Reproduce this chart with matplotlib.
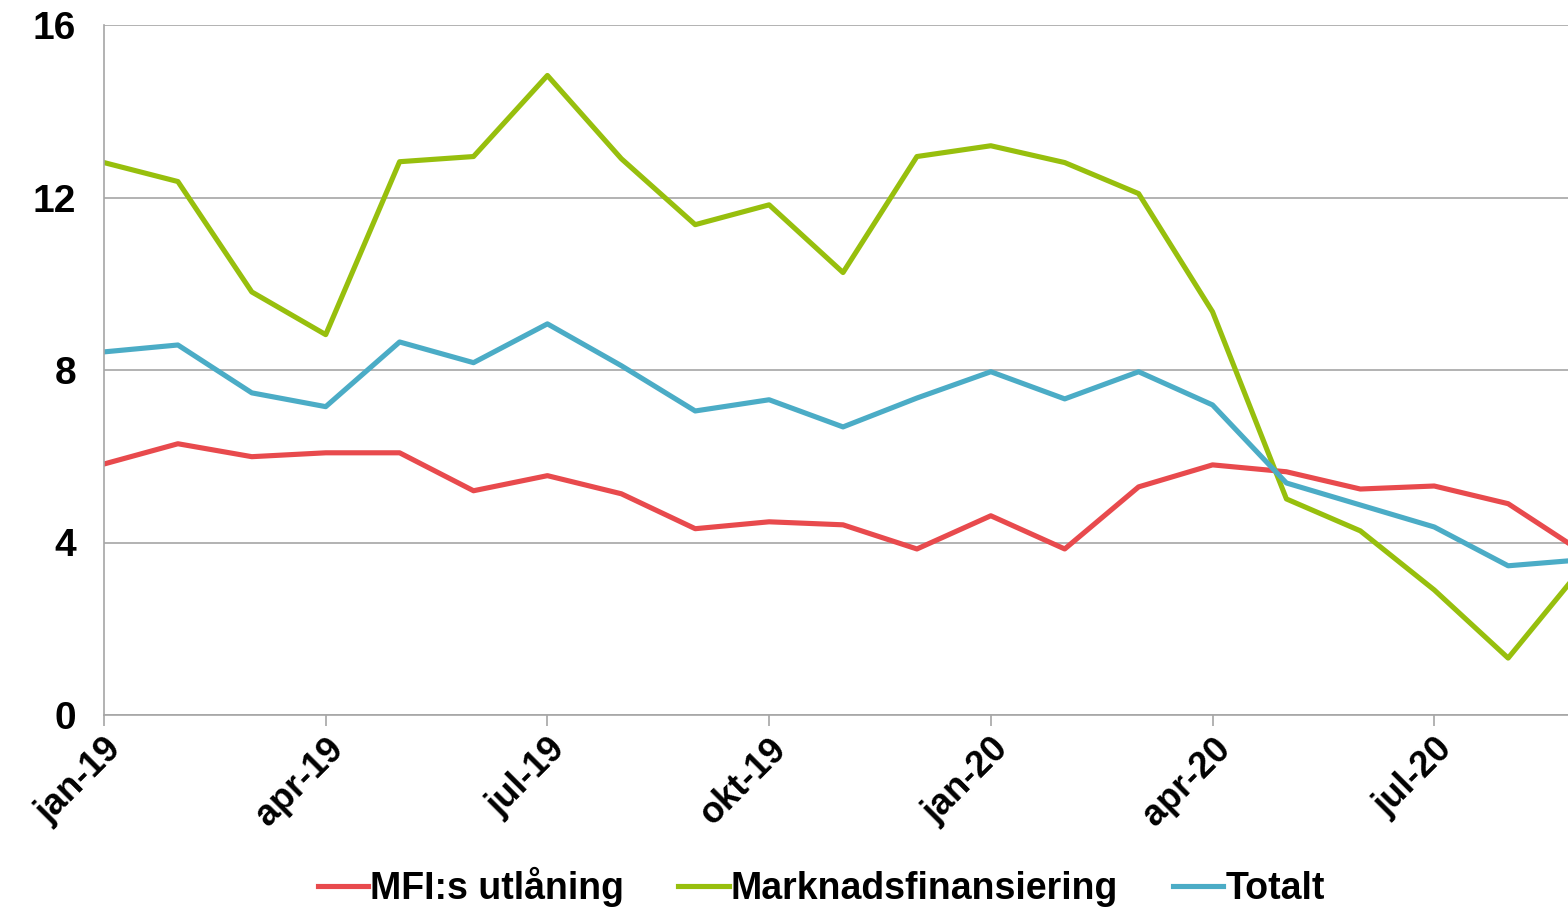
import matplotlib.pyplot as plt

plt.rcParams['font.family'] = ['Liberation Sans', 'DejaVu Sans']
plt.rcParams['font.weight'] = 'bold'

months = ['jan-19', 'feb-19', 'mar-19', 'apr-19', 'maj-19', 'jun-19', 'jul-19',
          'aug-19', 'sep-19', 'okt-19', 'nov-19', 'dec-19', 'jan-20', 'feb-20',
          'mar-20', 'apr-20', 'maj-20', 'jun-20', 'jul-20', 'aug-20', 'sep-20']

mfi = [5.82, 6.29, 5.99, 6.08, 6.08, 5.20, 5.55, 5.13, 4.32, 4.48, 4.41, 3.85,
       4.62, 3.85, 5.29, 5.80, 5.64, 5.24, 5.31, 4.90, 3.78]
marknad = [12.81, 12.37, 9.81, 8.82, 12.83, 12.95, 14.83, 12.90, 11.37, 11.83,
           10.26, 12.95, 13.20, 12.81, 12.09, 9.35, 5.01, 4.27, 2.90, 1.32, 3.41]
totalt = [8.42, 8.58, 7.47, 7.15, 8.65, 8.17, 9.07, 8.10, 7.05, 7.31, 6.68, 7.35,
          7.96, 7.33, 7.96, 7.19, 5.38, 4.87, 4.36, 3.46, 3.60]

x = list(range(len(months)))

fig = plt.figure(figsize=(15.68, 9.09), dpi=100)
ax = fig.add_axes([104 / 1568, 1 - 715 / 909, 1 - 104 / 1568, (715 - 25) / 909])

ax.plot(x, mfi, color='#E84A4D', lw=3.7, label='MFI:s utlåning')
ax.plot(x, marknad, color='#97BF0D', lw=3.7, label='Marknadsfinansiering')
ax.plot(x, totalt, color='#4BACC6', lw=3.7, label='Totalt')

ax.set_xlim(0, 19.81)
ax.set_ylim(0, 16)
ax.set_yticks([0, 4, 8, 12, 16])
ax.set_xticks(x[::3])
ax.set_xticklabels(months[::3], rotation=45, ha='right', rotation_mode='anchor')

ax.grid(axis='y', color='#A6A6A6', lw=1.2)
ax.set_axisbelow(True)
for s in ['top', 'right']:
    ax.spines[s].set_visible(False)
for s in ['left', 'bottom']:
    ax.spines[s].set_color('#A6A6A6')
    ax.spines[s].set_linewidth(1.2)

ax.tick_params(axis='y', length=0, labelsize=28, pad=20)
ax.tick_params(axis='x', length=8, color='#A6A6A6', width=1.2, labelsize=26, pad=4)

fig.legend(loc='center', bbox_to_anchor=(821 / 1568, 1 - 887 / 909), ncol=3,
           frameon=False, fontsize=27, handlelength=1.35, handletextpad=0.05,
           columnspacing=1.45)

fig.savefig('out.png', dpi=100)
